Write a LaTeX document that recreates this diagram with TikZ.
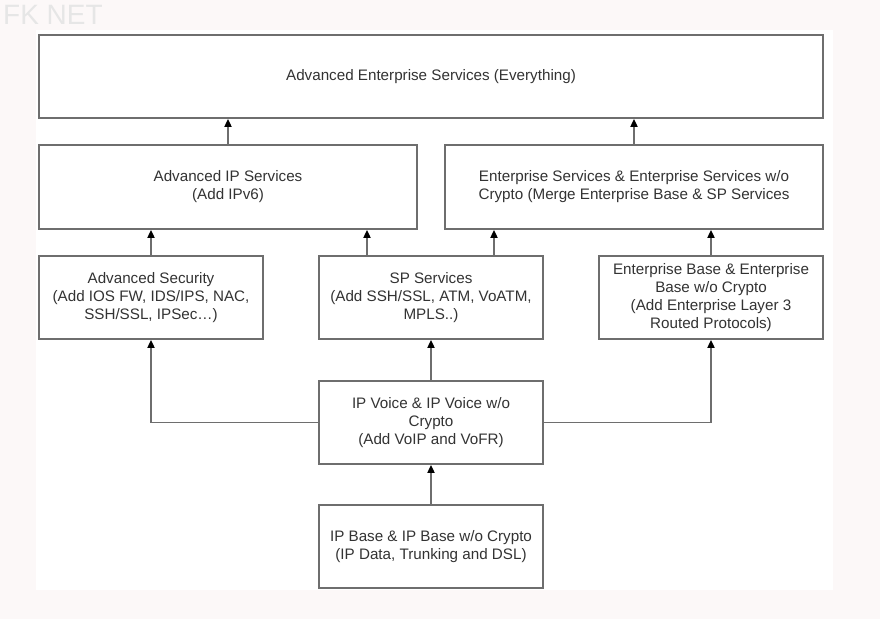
\documentclass[tikz,border=0pt]{standalone}
\usepackage{fontspec}
\setmainfont{Liberation Sans}
\usetikzlibrary{arrows.meta}
\definecolor{paper}{HTML}{FCF8F8}
\definecolor{linegray}{HTML}{6E6E6E}
\definecolor{textgray}{HTML}{333333}
\definecolor{markgray}{HTML}{E6E6E6}
\begin{document}
\begin{tikzpicture}[
    x=1pt, y=-1pt,
    box/.style={draw=linegray, line width=1.7pt, fill=white, text=textgray,
                align=center, inner sep=0pt, minimum height=83pt,
                font=\fontsize{15.2}{18}\selectfont},
    widebox/.style={box, minimum width=378pt},
    smallbox/.style={box, minimum width=224pt},
    link/.style={draw=linegray, line width=1.7pt,
                 -{Triangle[width=7pt,length=8pt,color=black]}}]
    % Hintergrund
    \useasboundingbox (0,0) rectangle (880,619);
    \fill[paper] (0,0) rectangle (880,619);
    \fill[white] (36,30) rectangle (833,590);
    \node[anchor=north west, inner sep=0pt, text=markgray,
          font=\fontsize{28}{30}\selectfont] (mark) at (3,5) {FK NET};

    % Kaesten
    \node[box, minimum width=784pt] (top) at (431,76.5)
        {Advanced Enterprise Services (Everything)};
    \node[widebox, minimum height=84pt] (advip) at (228,187)
        {Advanced IP Services\\(Add IPv6)};
    \node[widebox, minimum height=84pt] (entserv) at (634,187)
        {Enterprise Services \& Enterprise Services w/o\\Crypto (Merge Enterprise Base \& SP Services};
    \node[smallbox] (advsec) at (151,297.5)
        {Advanced Security\\(Add IOS FW, IDS/IPS, NAC,\\SSH/SSL, IPSec\ldots)};
    \node[smallbox] (spserv) at (431,297.5)
        {SP Services\\(Add SSH/SSL, ATM, VoATM,\\MPLS..)};
    \node[smallbox] (entbase) at (711,297.5)
        {Enterprise Base \& Enterprise\\Base w/o Crypto\\(Add Enterprise Layer 3\\Routed Protocols)};
    \node[smallbox] (ipvoice) at (431,422.5)
        {IP Voice \& IP Voice w/o\\Crypto\\(Add VoIP and VoFR)};
    \node[smallbox] (ipbase) at (431,546.5)
        {IP Base \& IP Base w/o Crypto\\(IP Data, Trunking and DSL)};

    % Pfeile
    \coordinate (spleft) at ([xshift=-64pt]spserv.north);
    \coordinate (spright) at ([xshift=63pt]spserv.north);
    \draw[link] (advip.north) -- (advip.north |- top.south);
    \draw[link] (entserv.north) -- (entserv.north |- top.south);
    \draw[link] (advsec.north) -- (advsec.north |- advip.south);
    \draw[link] (spleft) -- (spleft |- advip.south);
    \draw[link] (spright) -- (spright |- entserv.south);
    \draw[link] (entbase.north) -- (entbase.north |- entserv.south);
    \draw[link] (ipvoice.north) -- (spserv.south);
    \draw[link] (ipvoice.west) -| (advsec.south);
    \draw[link] (ipvoice.east) -| (entbase.south);
    \draw[link] (ipbase.north) -- (ipvoice.south);
\end{tikzpicture}
\end{document}
